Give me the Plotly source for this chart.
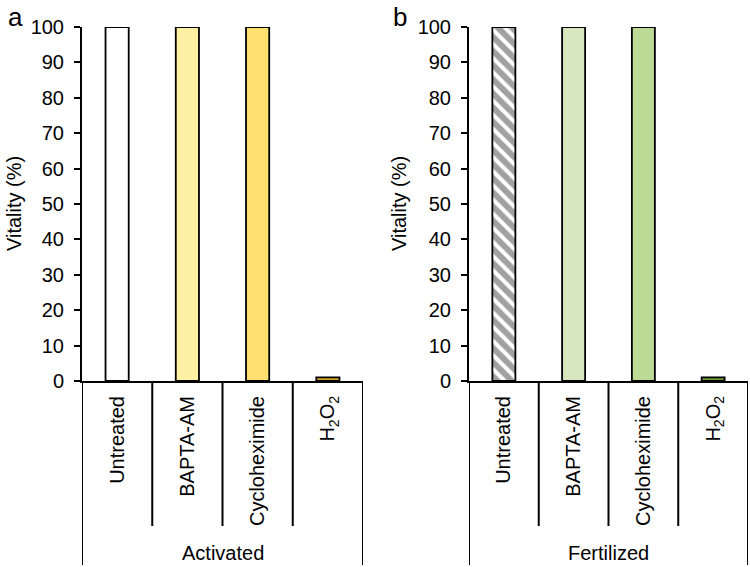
import plotly.graph_objects as go

categories = ["Untreated", "BAPTA-AM", "Cycloheximide", "H<sub>2</sub>O<sub>2</sub>"]
groups = ["Activated", "Fertilized"]
vitality_activated = [100, 100, 100, 1]
vitality_fertilized = [100, 100, 100, 1]
y_ticks = [0, 10, 20, 30, 40, 50, 60, 70, 80, 90, 100]
panel_letters = ["a", "b"]

colors_activated = ["#FFFFFF", "#FFF1A3", "#FFE16F", "#D4A51C"]
colors_fertilized = ["#FFFFFF", "#D7E8BF", "#BDD996", "#6E9A35"]
patterns_fertilized = ["\\", "", "", ""]

W, H = 750, 567
FONT = "Liberation Sans, Arial, sans-serif"

x_domains = [[82 / W, 363 / W], [469 / W, 748 / W]]
y_domain = [1 - 381 / H, 1 - 27 / H]
title_x = [14 / W, 399 / W]
letter_x = [6 / W, 391 / W]

fig = go.Figure()
values = [vitality_activated, vitality_fertilized]
colors = [colors_activated, colors_fertilized]
patterns = [["", "", "", ""], patterns_fertilized]

shapes = []
annotations = []
for i in range(2):
    xa = "x" if i == 0 else "x2"
    ya = "y" if i == 0 else "y2"
    fig.add_trace(go.Bar(
        x=categories, y=values[i], xaxis=xa, yaxis=ya,
        width=0.33,
        marker=dict(
            color=colors[i],
            line=dict(color="black", width=1.8),
            pattern=dict(shape=patterns[i], fgcolor="black", bgcolor="white",
                         size=10, solidity=0.6, fillmode="overlay"),
        ),
        showlegend=False, hoverinfo="x+y",
    ))
    n = len(categories)
    for k in range(n + 1):
        xpos = k - 0.5
        outer = k == 0 or k == n
        shapes.append(dict(type="line", xref=xa, yref="paper",
                           x0=xpos, x1=xpos, y0=y_domain[0],
                           y1=(1 - 565 / H) if outer else (1 - 526 / H),
                           line=dict(color="black", width=2)))
    annotations.append(dict(text=groups[i], xref=xa, yref="paper",
                            x=(n - 1) / 2, y=1 - 553 / H, showarrow=False,
                            xanchor="center", yanchor="middle",
                            font=dict(size=20, color="black", family=FONT)))
    annotations.append(dict(text="Vitality (%)", xref="paper", yref="paper",
                            x=title_x[i], y=(y_domain[0] + y_domain[1]) / 2,
                            textangle=-90, showarrow=False,
                            xanchor="center", yanchor="middle",
                            font=dict(size=20, color="black", family=FONT)))
    annotations.append(dict(text=panel_letters[i], xref="paper", yref="paper",
                            x=letter_x[i], y=1.0, showarrow=False,
                            xanchor="left", yanchor="top",
                            font=dict(size=26, color="black", family=FONT)))

axis_common_x = dict(
    type="category", range=[-0.5, 3.5], showline=True, linecolor="black",
    linewidth=2, ticks="", showgrid=False, zeroline=False, tickangle=-90,
    automargin=False,
    tickfont=dict(size=20, color="black", family=FONT), ticklabelstandoff=5,
)
axis_common_y = dict(
    range=[0, 100], tickvals=y_ticks, showline=True, linecolor="black",
    linewidth=2, ticks="outside", ticklen=6, tickwidth=2, tickcolor="black",
    showgrid=False, zeroline=False, domain=y_domain, ticklabelstandoff=6,
    automargin=False,
    tickfont=dict(size=20, color="black", family=FONT),
)

fig.update_layout(
    width=W, height=H, margin=dict(l=0, r=0, t=0, b=0, pad=0),
    paper_bgcolor="white", plot_bgcolor="white",
    font=dict(family=FONT, color="black"),
    xaxis=dict(domain=x_domains[0], anchor="y", **axis_common_x),
    xaxis2=dict(domain=x_domains[1], anchor="y2", **axis_common_x),
    yaxis=dict(anchor="x", **axis_common_y),
    yaxis2=dict(anchor="x2", **axis_common_y),
    shapes=shapes, annotations=annotations, bargap=0.67,
)

fig.write_html(
    "out.html",
    config={"displayModeBar": False},
    post_script="document.body.style.margin='0px';document.body.style.padding='0px';document.body.style.overflow='hidden';",
)
